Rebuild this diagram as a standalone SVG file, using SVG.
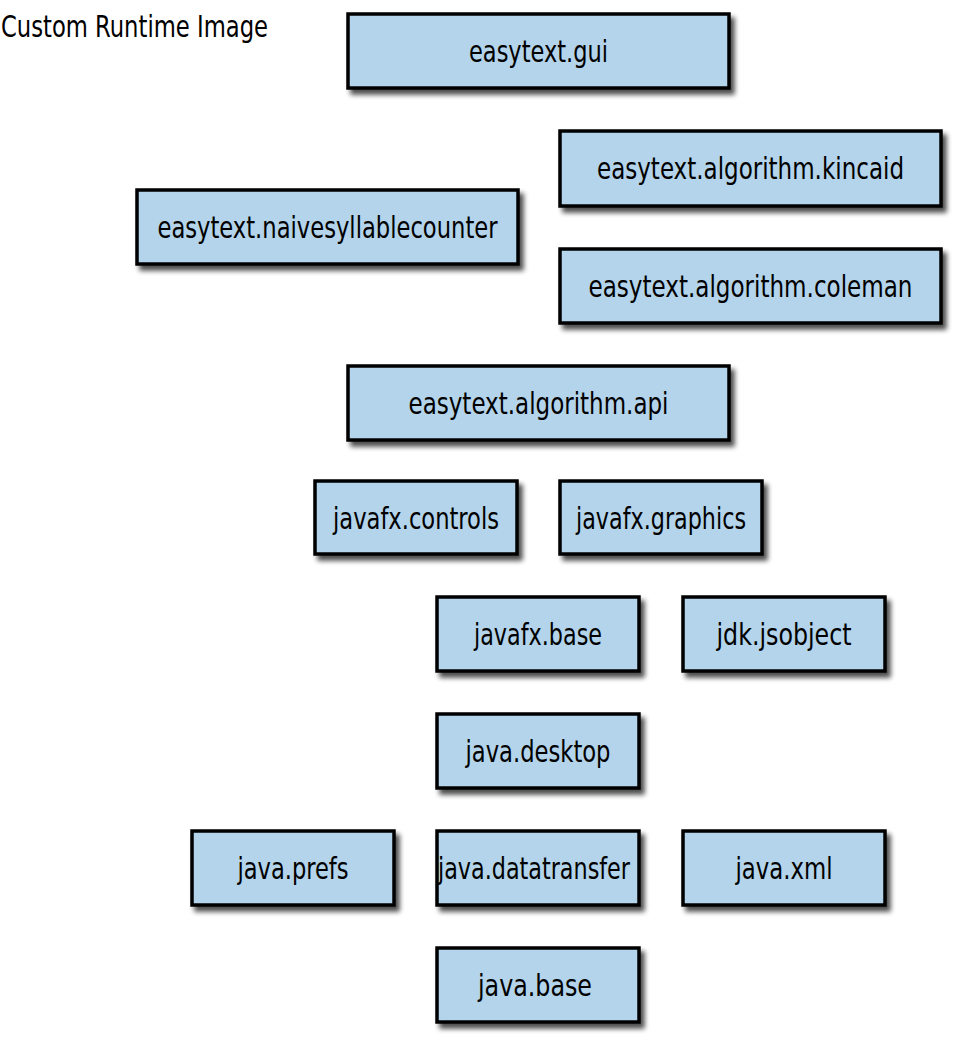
<svg xmlns="http://www.w3.org/2000/svg" width="968" height="1049" viewBox="0 0 968 1049">
<style>
.box{fill:#b3d4ea;stroke:#000;stroke-width:3.5;filter:url(#sh)}
.lbl{font-family:"DejaVu Sans Condensed","Liberation Sans",sans-serif;font-size:30px;fill:#000;text-anchor:middle}
.title{font-family:"DejaVu Sans Condensed","Liberation Sans",sans-serif;font-size:31px;fill:#000}
</style>
<defs>
<filter id="sh" x="-10%" y="-20%" width="130%" height="160%">
<feGaussianBlur in="SourceAlpha" stdDeviation="2.5"/>
<feOffset dx="4" dy="5" result="b"/>
<feComponentTransfer><feFuncA type="linear" slope="0.7"/></feComponentTransfer>
<feMerge><feMergeNode/><feMergeNode in="SourceGraphic"/></feMerge>
</filter>
</defs>
<rect width="968" height="1049" fill="#fff"/>
<text class="title" x="1" y="37" textLength="267" lengthAdjust="spacingAndGlyphs">Custom Runtime Image</text>
<g id="connectors"></g>
<g id="gui"><rect class="box" x="348" y="14" width="381" height="74"/><text class="lbl" x="538.5" y="62" textLength="139" lengthAdjust="spacingAndGlyphs">easytext.gui</text></g>
<g id="kincaid"><rect class="box" x="560" y="131" width="381" height="75"/><text class="lbl" x="750.5" y="179" textLength="307" lengthAdjust="spacingAndGlyphs">easytext.algorithm.kincaid</text></g>
<g id="naive"><rect class="box" x="137" y="190" width="381" height="74"/><text class="lbl" x="327.5" y="238" textLength="340" lengthAdjust="spacingAndGlyphs">easytext.naivesyllablecounter</text></g>
<g id="coleman"><rect class="box" x="560" y="249" width="381" height="74"/><text class="lbl" x="750.5" y="297" textLength="324" lengthAdjust="spacingAndGlyphs">easytext.algorithm.coleman</text></g>
<g id="api"><rect class="box" x="348" y="366" width="381" height="74"/><text class="lbl" x="538.5" y="414" textLength="260" lengthAdjust="spacingAndGlyphs">easytext.algorithm.api</text></g>
<g id="controls"><rect class="box" x="315" y="481" width="202" height="73"/><text class="lbl" x="416" y="529" textLength="166" lengthAdjust="spacingAndGlyphs">javafx.controls</text></g>
<g id="graphics"><rect class="box" x="560" y="481" width="202" height="73"/><text class="lbl" x="661" y="529" textLength="170" lengthAdjust="spacingAndGlyphs">javafx.graphics</text></g>
<g id="base-fx"><rect class="box" x="437" y="597" width="202" height="74"/><text class="lbl" x="538" y="645" textLength="128" lengthAdjust="spacingAndGlyphs">javafx.base</text></g>
<g id="jsobject"><rect class="box" x="683" y="597" width="202" height="74"/><text class="lbl" x="784" y="645" textLength="135" lengthAdjust="spacingAndGlyphs">jdk.jsobject</text></g>
<g id="desktop"><rect class="box" x="437" y="714" width="202" height="74"/><text class="lbl" x="538" y="762" textLength="145" lengthAdjust="spacingAndGlyphs">java.desktop</text></g>
<g id="prefs"><rect class="box" x="192" y="831" width="202" height="74"/><text class="lbl" x="293" y="879" textLength="111" lengthAdjust="spacingAndGlyphs">java.prefs</text></g>
<g id="datatransfer"><rect class="box" x="437" y="831" width="202" height="74"/><text class="lbl" x="534" y="879" textLength="192" lengthAdjust="spacingAndGlyphs">java.datatransfer</text></g>
<g id="xml"><rect class="box" x="683" y="831" width="202" height="74"/><text class="lbl" x="784" y="879" textLength="97" lengthAdjust="spacingAndGlyphs">java.xml</text></g>
<g id="base"><rect class="box" x="437" y="948" width="202" height="74"/><text class="lbl" x="535" y="996" textLength="114" lengthAdjust="spacingAndGlyphs">java.base</text></g>
</svg>
